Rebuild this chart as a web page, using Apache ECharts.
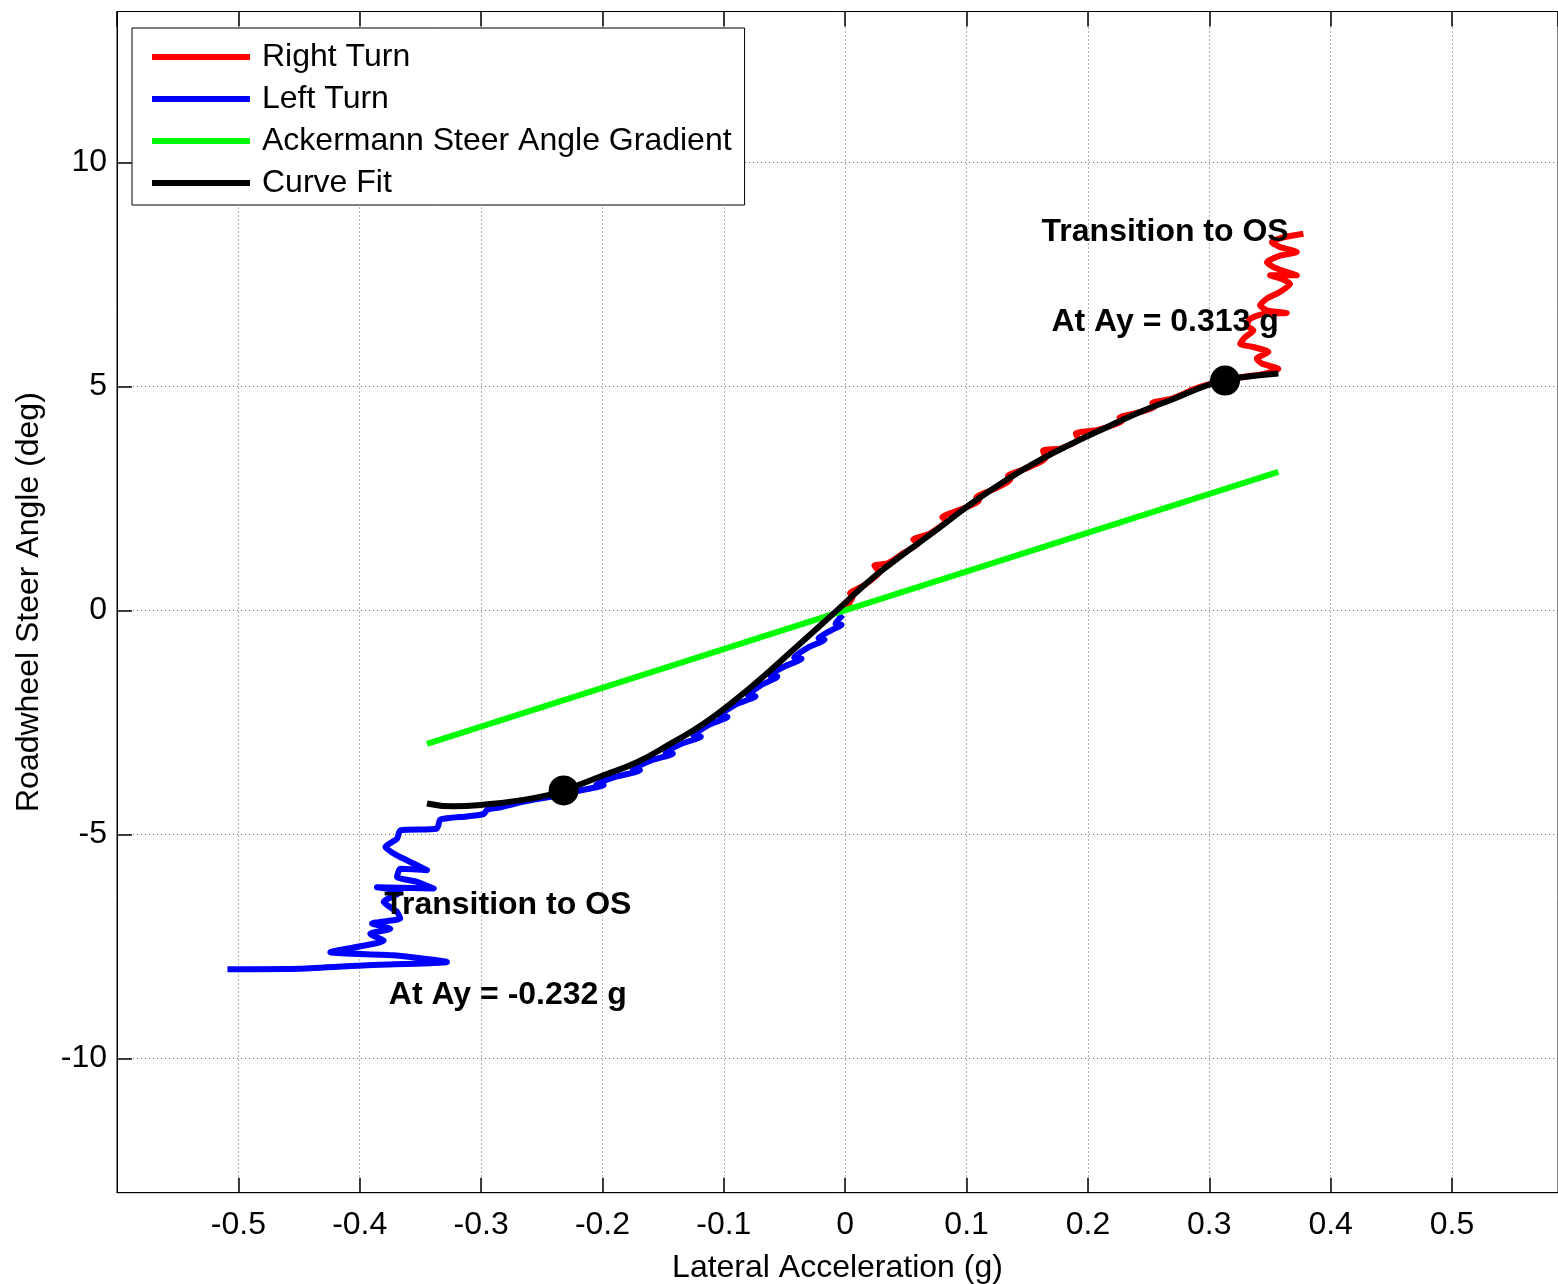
<!DOCTYPE html>
<html>
<head>
<meta charset="utf-8">
<script src="https://cdn.jsdelivr.net/npm/echarts@6/dist/echarts.min.js"></script>
<style>
html,body{margin:0;padding:0;background:#fff;}
#chart{width:1558px;height:1284px;}
</style>
</head>
<body>
<div id="chart"></div>
<script>
// ---- Data ----
const xTickLabels = ['-0.5','-0.4','-0.3','-0.2','-0.1','0','0.1','0.2','0.3','0.4','0.5'];
const yTickLabels = ['-10','-5','0','5','10'];

const rightTurnX = [0.000,0.006,0.004,0.015,0.028,0.024,0.035,0.048,0.060,0.056,0.070,0.083,0.080,0.095,0.110,0.108,0.122,0.136,0.134,0.150,0.165,0.163,0.178,0.192,0.190,0.208,0.228,0.226,0.242,0.255,0.253,0.268,0.280,0.285,0.300,0.315,0.330,0.345,0.3569,
  0.3432,0.3391,0.3487,0.3363,0.3254,0.3295,0.3363,0.3309,0.3336,0.3446,0.3638,0.3474,0.3418,0.3474,0.3583,0.3666,0.3597,0.3501,0.3721,0.3556,0.3474,0.3583,0.3721,0.3583,0.3515,0.3611,0.3775];
const rightTurnY = [0.05,0.30,0.38,0.55,0.85,1.00,1.05,1.28,1.50,1.58,1.72,2.00,2.08,2.25,2.45,2.52,2.70,2.92,3.00,3.18,3.40,3.57,3.62,3.82,3.95,4.03,4.22,4.30,4.42,4.55,4.63,4.72,4.85,4.92,5.05,5.15,5.22,5.28,5.39,
  5.51,5.62,5.77,5.88,5.95,6.10,6.25,6.36,6.51,6.62,6.64,6.70,6.81,6.96,7.11,7.29,7.40,7.48,7.48,7.63,7.77,7.92,8.00,8.11,8.22,8.33,8.41];

const leftTurnX = [-0.002,-0.008,-0.003,-0.012,-0.022,-0.017,-0.030,-0.042,-0.036,-0.050,-0.062,-0.056,-0.070,-0.080,-0.074,-0.090,-0.103,-0.097,-0.112,-0.125,-0.119,-0.135,-0.148,-0.142,-0.160,-0.175,-0.169,-0.190,-0.205,-0.199,-0.220,-0.235,-0.255,-0.270,-0.285,-0.295,-0.298,-0.3116,-0.3336,
  -0.3364,-0.3666,-0.3693,-0.3789,-0.3693,-0.3556,-0.3446,-0.3666,-0.3693,-0.3529,-0.3391,-0.3858,-0.3666,-0.3803,-0.3693,-0.3666,-0.3899,-0.3748,-0.3913,-0.3803,-0.4242,-0.3720,-0.3281,-0.3940,-0.4489,-0.5090];
const leftTurnY = [-0.10,-0.30,-0.32,-0.45,-0.62,-0.65,-0.82,-1.05,-1.08,-1.25,-1.45,-1.48,-1.68,-1.90,-1.92,-2.10,-2.35,-2.38,-2.55,-2.80,-2.82,-2.98,-3.18,-3.20,-3.35,-3.55,-3.57,-3.72,-3.88,-3.90,-4.03,-4.12,-4.22,-4.30,-4.40,-4.45,-4.55,-4.60,-4.67,
  -4.87,-4.91,-5.10,-5.28,-5.47,-5.65,-5.80,-5.77,-5.95,-6.06,-6.21,-6.18,-6.29,-6.51,-6.73,-6.88,-6.99,-7.11,-7.22,-7.37,-7.63,-7.70,-7.85,-7.92,-8.00,-8.01];

const ackermannX = [-0.3446, 0.3569];
const ackermannY = [-2.98, 3.09];

const curveFitX = [-0.3446,-0.3227,-0.2951,-0.2677,-0.2457,-0.2320,-0.1991,-0.1716,-0.1442,-0.1167,-0.0892,-0.0618,-0.0343,-0.0068,0.0233,0.0508,0.0783,0.1057,0.1332,0.1606,0.1881,0.2156,0.2430,0.2704,0.2979,0.3130,0.3254,0.3569];
const curveFitY = [-4.31,-4.375,-4.33,-4.24,-4.13,-4.02,-3.68,-3.39,-2.98,-2.53,-1.97,-1.34,-0.67,0.0,0.74,1.31,1.86,2.42,2.92,3.36,3.74,4.09,4.43,4.72,5.02,5.13,5.20,5.29];

const transitionX = [-0.232, 0.313];
const transitionY = [-4.02, 5.13];

const annotationText = ['Transition to OS\n\nAt Ay = -0.232 g', 'Transition to OS\n\nAt Ay = 0.313 g'];
const annotationX = [-0.278, 0.2636];
const annotationY = [-7.58, 7.45];

const seriesNames = ['Right Turn','Left Turn','Ackermann Steer Angle Gradient','Curve Fit'];

// ---- Build ----
const zip = (xs, ys) => xs.map((x, i) => [x, ys[i]]);
const FONT = '"Liberation Sans", Arial, Helvetica, sans-serif';

const chart = echarts.init(document.getElementById('chart'), null, {renderer: 'canvas'});

const gridLine = {show: true, lineStyle: {color: '#666', type: [1, 3], width: 1}};
const X_MIN = -0.6, X_MAX = 0.5873;

const option = {
  animation: false,
  backgroundColor: '#fff',
  textStyle: {fontFamily: FONT},
  grid: {left: 117, right: 0, top: 11.5, bottom: 91.3, containLabel: false, outerBoundsMode: 'none',
    show: true, borderColor: '#000', borderWidth: 1, backgroundColor: 'transparent'},
  legend: {
    data: seriesNames,
    orient: 'vertical',
    left: 132, top: 28,
    padding: [11, 13, 4, 20],
    itemGap: 6,
    itemWidth: 98, itemHeight: 6,
    icon: 'rect',
    selectedMode: false,
    backgroundColor: '#fff',
    borderColor: '#000', borderWidth: 1,
    textStyle: {fontFamily: FONT, fontSize: 32, color: '#000', lineHeight: 36, padding: [0, 0, 0, 7]}
  },
  xAxis: [{
    type: 'value', min: X_MIN, max: X_MAX, interval: 0.1,
    name: 'Lateral Acceleration (g)', nameLocation: 'middle', nameGap: 59,
    nameTextStyle: {fontFamily: FONT, fontSize: 32, color: '#000'},
    axisLine: {show: true, onZero: false, lineStyle: {color: '#000', width: 1}},
    axisTick: {show: true, inside: true, length: 15, lineStyle: {color: '#000', width: 1.5}},
    axisLabel: {show: true, margin: 16, fontFamily: FONT, fontSize: 32, color: '#000', showMinLabel: false, showMaxLabel: false,
      formatter: v => { const s = (Math.round(v * 10) / 10).toString(); return xTickLabels.indexOf(s) >= 0 ? s : ''; }},
    splitLine: gridLine
  }, {
    type: 'value', min: X_MIN, max: X_MAX, interval: 0.1, position: 'top',
    axisLine: {show: true, onZero: false, lineStyle: {color: '#000', width: 1}},
    axisTick: {show: true, inside: true, length: 15, lineStyle: {color: '#000', width: 1.5}},
    axisLabel: {show: false}, splitLine: {show: false}
  }],
  yAxis: [{
    type: 'value', min: -13, max: 13.37, splitNumber: 5,
    name: 'Roadwheel Steer Angle (deg)', nameLocation: 'middle', nameGap: 72,
    nameTextStyle: {fontFamily: FONT, fontSize: 32, color: '#000'},
    axisLine: {show: true, onZero: false, lineStyle: {color: '#000', width: 1}},
    axisTick: {show: true, inside: true, length: 15, lineStyle: {color: '#000', width: 1.5}},
    axisLabel: {show: true, margin: 10, fontFamily: FONT, fontSize: 32, color: '#000', showMinLabel: false, showMaxLabel: false,
      formatter: v => { const s = String(Math.round(v)); return (yTickLabels.indexOf(s) >= 0 && Math.abs(v - Math.round(v)) < 1e-6) ? s : ''; }},
    splitLine: gridLine
  }, {
    type: 'value', min: -13, max: 13.37, splitNumber: 5, position: 'right',
    axisLine: {show: false},
    axisTick: {show: false},
    axisLabel: {show: false}, splitLine: {show: false}
  }],
  series: [
    {name: seriesNames[0], type: 'line', data: zip(rightTurnX, rightTurnY), showSymbol: false, symbol: 'none', smooth: 0.2,
      color: '#ff0000', lineStyle: {color: '#ff0000', width: 6, join: 'round'}, z: 2},
    {name: seriesNames[1], type: 'line', data: zip(leftTurnX, leftTurnY), showSymbol: false, symbol: 'none', smooth: 0.2,
      color: '#0000ff', lineStyle: {color: '#0000ff', width: 6, join: 'round'}, z: 3},
    {name: seriesNames[2], type: 'line', data: zip(ackermannX, ackermannY), showSymbol: false, symbol: 'none',
      color: '#00ff00', lineStyle: {color: '#00ff00', width: 6}, z: 4},
    {name: seriesNames[3], type: 'line', data: zip(curveFitX, curveFitY), showSymbol: false, symbol: 'none', smooth: 0.5,
      color: '#000000', lineStyle: {color: '#000000', width: 6, join: 'round'}, z: 5},
    {name: 'Transition', type: 'scatter', data: zip(transitionX, transitionY), symbol: 'circle', symbolSize: 30,
      itemStyle: {color: '#000', opacity: 1}, z: 6},
    {name: 'Annotations', type: 'scatter', symbolSize: 0, z: 7,
      itemStyle: {opacity: 1},
      data: annotationX.map((x, i) => ({value: [x, annotationY[i]], label: {formatter: annotationText[i]}})),
      label: {show: true, position: 'inside', align: 'center', verticalAlign: 'middle',
        fontFamily: FONT, fontSize: 32, fontWeight: 'bold', color: '#000', opacity: 1, lineHeight: 45}}
  ]
};
chart.setOption(option);
</script>
</body>
</html>
